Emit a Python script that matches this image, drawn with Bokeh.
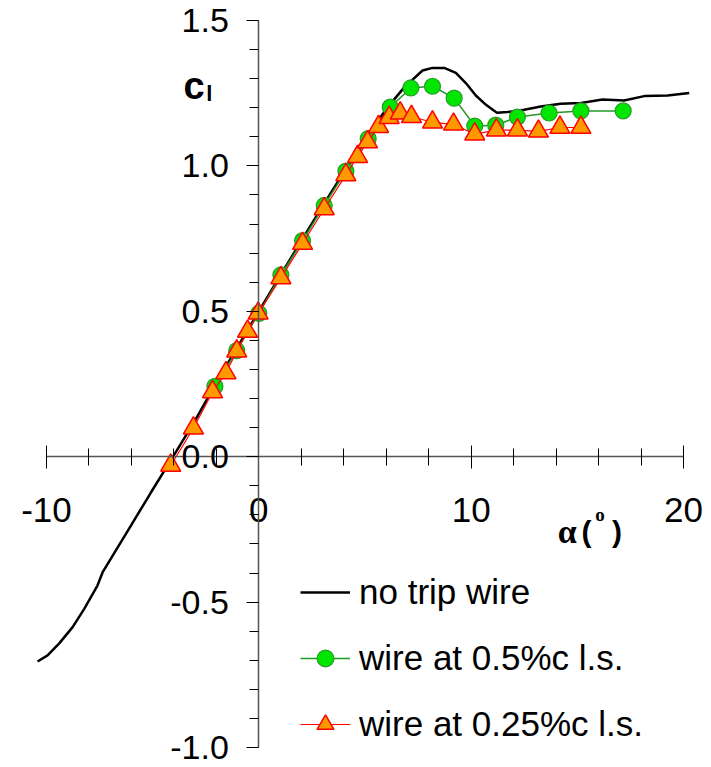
from bokeh.plotting import figure
from bokeh.models import (Range1d, SingleIntervalTicker, NumeralTickFormatter,
                          Legend, LegendItem, Label)
from bokeh.embed import file_html
from bokeh.resources import INLINE

# ---- data ----
alpha_none = [-10.42, -9.95, -9.4, -8.77, -8.23, -7.6, -7.36, -6.89, -6.18, -5.09,
              -4.06, -3.0, -2.0, -1.0, 0.0, 1.0, 2.0, 3.0, 4.0, 5.0, 5.6, 6.14,
              6.85, 7.71, 8.18, 8.73, 9.28, 9.75, 10.22, 10.7, 11.21, 11.71, 12.5,
              13.28, 14.22, 15.17, 16.19, 17.2, 18.15, 19.25, 20.27]
cl_none = [-0.704, -0.683, -0.642, -0.586, -0.524, -0.443, -0.398, -0.341, -0.256, -0.124,
           -0.002, 0.125, 0.255, 0.378, 0.5, 0.622, 0.742, 0.862, 0.978, 1.09, 1.155, 1.208,
           1.27, 1.328, 1.337, 1.337, 1.32, 1.285, 1.242, 1.21, 1.183, 1.185, 1.193,
           1.204, 1.214, 1.216, 1.228, 1.225, 1.24, 1.242, 1.251]

alpha_05 = [-2.07, -1.04, 0.0, 1.04, 2.06, 3.08, 4.1, 5.15, 6.19, 7.16, 8.18, 9.2,
            10.17, 11.16, 12.18, 13.67, 15.17, 17.16]
cl_05 = [0.242, 0.365, 0.493, 0.625, 0.743, 0.864, 0.982, 1.094, 1.202, 1.268, 1.274,
         1.233, 1.137, 1.14, 1.168, 1.182, 1.189, 1.189]

alpha_025 = [-4.15, -3.08, -2.18, -1.55, -1.04, -0.53, -0.03, 1.04, 2.06, 3.08, 4.1,
             4.65, 5.12, 5.64, 6.14, 6.66, 7.19, 8.18, 9.17, 10.17, 11.19, 12.18,
             13.17, 14.18, 15.17]
cl_025 = [-0.03, 0.098, 0.223, 0.288, 0.363, 0.431, 0.493, 0.615, 0.733, 0.852, 0.969,
          1.032, 1.082, 1.135, 1.166, 1.181, 1.169, 1.15, 1.143, 1.109, 1.123, 1.123,
          1.119, 1.132, 1.132]

series_names = ["no trip wire", "wire at 0.5%c l.s.", "wire at 0.25%c l.s."]
x_bounds = (-10, 20)
y_bounds = (-1.0, 1.5)

FONT = "Liberation Sans"
SERIF = "Liberation Serif"

p = figure(width=711, height=767,
           x_range=Range1d(-12.166, 21.32), y_range=Range1d(-1.0687, 1.5688),
           output_backend="svg", toolbar_location=None, min_border=0,
           background_fill_color="white", border_fill_color="white")
p.outline_line_color = None
p.xgrid.visible = False
p.ygrid.visible = False

# axes crossing at the origin
xa = p.xaxis[0]
xa.fixed_location = 0
xa.bounds = x_bounds
xa.ticker = SingleIntervalTicker(interval=10, num_minor_ticks=5)
xa.formatter = NumeralTickFormatter(format="0")
xa.axis_line_color = "#555555"
xa.axis_line_width = 1.5
xa.major_tick_line_color = "black"
xa.minor_tick_line_color = "black"
xa.major_tick_in = 11
xa.major_tick_out = 12
xa.minor_tick_in = 8
xa.minor_tick_out = 9
xa.major_label_standoff = 29
xa.major_label_text_font = FONT
xa.major_label_text_font_size = "35px"
xa.major_label_text_color = "black"

ya = p.yaxis[0]
ya.fixed_location = 0
ya.bounds = y_bounds
ya.ticker = SingleIntervalTicker(interval=0.5, num_minor_ticks=5)
ya.formatter = NumeralTickFormatter(format="0.0")
ya.axis_line_color = "#555555"
ya.axis_line_width = 1.5
ya.major_tick_line_color = "black"
ya.minor_tick_line_color = "black"
ya.major_tick_in = 0
ya.major_tick_out = 12
ya.minor_tick_in = 0
ya.minor_tick_out = 9
ya.major_label_standoff = 18
ya.major_label_text_font = FONT
ya.major_label_text_font_size = "34px"
ya.major_label_text_color = "black"

# series
r_none = p.line(alpha_none, cl_none, line_color="black", line_width=2.5)
r_05l = p.line(alpha_05, cl_05, line_color="#229922", line_width=1.5)
r_05m = p.scatter(alpha_05, cl_05, marker="circle", size=16,
                  fill_color="#00e600", line_color="#2a9a2a", line_width=1.2)
r_025l = p.line(alpha_025, cl_025, line_color="#ff0000", line_width=1.2)
r_025m = p.scatter(alpha_025, cl_025, marker="triangle", size=20,
                   fill_color="#ff9900", line_color="#ff0000", line_width=1.5)

legend = Legend(items=[
    LegendItem(label=series_names[0], renderers=[r_none]),
    LegendItem(label=series_names[1], renderers=[r_05l, r_05m]),
    LegendItem(label=series_names[2], renderers=[r_025l, r_025m]),
], location=(300, 22), orientation="vertical",
    glyph_width=50, glyph_height=42, label_height=42, spacing=24,
    label_standoff=9, padding=0, margin=0,
    border_line_color=None, background_fill_alpha=0,
    label_text_font=FONT, label_text_font_size="35px", label_text_color="black")
p.add_layout(legend)

# axis titles
p.add_layout(Label(x=-3.55, y=1.274, text="c", text_font=FONT, text_font_style="bold",
                   text_font_size="38px", text_baseline="alphabetic", text_color="black"))
p.add_layout(Label(x=-2.48, y=1.248, text="l", text_font=FONT, text_font_style="bold",
                   text_font_size="22px", text_baseline="alphabetic", text_color="black"))
p.add_layout(Label(x=14.08, y=-0.256, text="α", text_font=SERIF,
                   text_font_style="bold", text_font_size="34px",
                   text_baseline="alphabetic", text_color="black"))
p.add_layout(Label(x=15.2, y=-0.256, text="(", text_font=FONT,
                   text_font_style="bold", text_font_size="30px",
                   text_baseline="alphabetic", text_color="black"))
p.add_layout(Label(x=15.85, y=-0.200, text="o", text_font=SERIF,
                   text_font_style="bold", text_font_size="19px",
                   text_baseline="alphabetic", text_color="black"))
p.add_layout(Label(x=16.63, y=-0.256, text=")", text_font=FONT,
                   text_font_style="bold", text_font_size="30px",
                   text_baseline="alphabetic", text_color="black"))

open("out.html", "w").write(file_html(p, INLINE))
